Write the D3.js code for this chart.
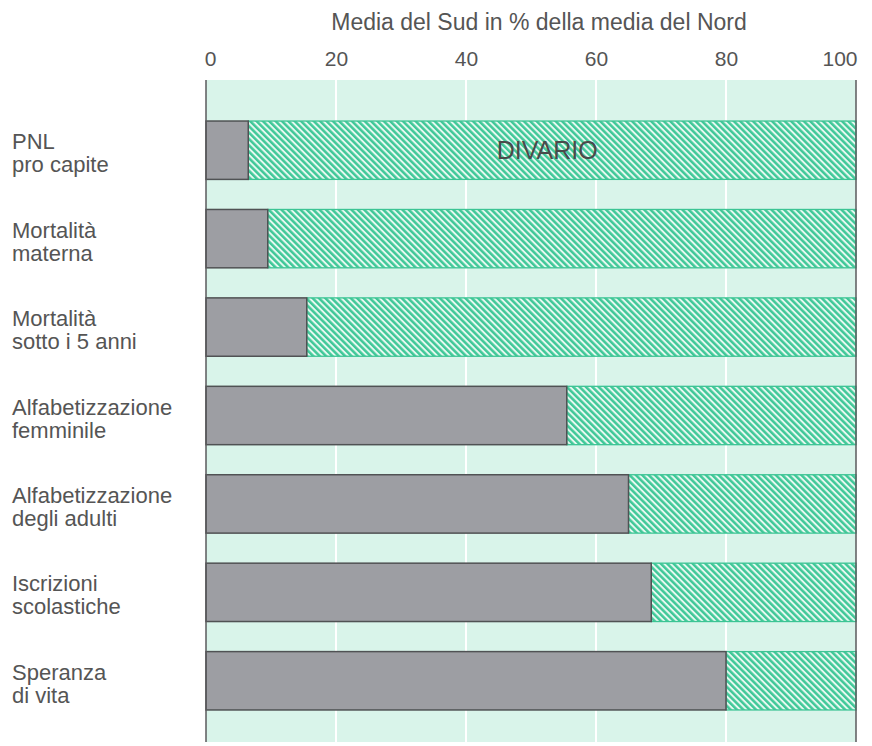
<!DOCTYPE html>
<html>
<head>
<meta charset="utf-8">
<script src="https://cdn.jsdelivr.net/npm/d3@7"></script>
<style>
  html, body { margin: 0; padding: 0; background: #ffffff; }
  svg { display: block; }
  text { font-family: "Liberation Sans", Arial, Helvetica, sans-serif; }
</style>
</head>
<body>
<script>
// South average as % of the North average, per indicator
const categories = [
  ["PNL", "pro capite"],
  ["Mortalità", "materna"],
  ["Mortalità", "sotto i 5 anni"],
  ["Alfabetizzazione", "femminile"],
  ["Alfabetizzazione", "degli adulti"],
  ["Iscrizioni", "scolastiche"],
  ["Speranza", "di vita"]
];
const values = [6.5, 9.5, 15.5, 55.5, 65, 68.5, 80];
const tickValues = [0, 20, 40, 60, 80, 100];
const axisTitle = "Media del Sud in % della media del Nord";
const gapLabel = "DIVARIO";

const W = 872, H = 746;
const plotTop = 80, plotBottom = 742;

const svg = d3.select("body").append("svg")
  .attr("width", W).attr("height", H);

const x = d3.scaleLinear().domain([0, 100]).range([206, 856]);
const y = d3.scaleBand()
  .domain(d3.range(categories.length))
  .range([106, 725])
  .paddingInner(0.34)
  .paddingOuter(0.17);

// diagonal hatch for the gap up to 100
const defs = svg.append("defs");
const pat = defs.append("pattern")
  .attr("id", "hatch")
  .attr("patternUnits", "userSpaceOnUse")
  .attr("width", 4.5).attr("height", 10)
  .attr("patternTransform", "rotate(-45)");
pat.append("rect").attr("width", 4.5).attr("height", 10).attr("fill", "#e6f8f0");
pat.append("rect").attr("width", 2.5).attr("height", 10).attr("fill", "#3fc898");

// plot background
svg.append("rect")
  .attr("x", x(0)).attr("y", plotTop)
  .attr("width", x(100) - x(0)).attr("height", plotBottom - plotTop)
  .attr("fill", "#d9f4ea");

// white gridlines
svg.append("g").selectAll("line")
  .data(tickValues.filter(d => d > 0 && d < 100))
  .join("line")
  .attr("x1", d => x(d)).attr("x2", d => x(d))
  .attr("y1", plotTop).attr("y2", plotBottom)
  .attr("stroke", "#ffffff").attr("stroke-width", 2);

// gap (hatched) bars
svg.append("g").selectAll("rect")
  .data(values)
  .join("rect")
  .attr("x", d => x(d))
  .attr("y", (d, i) => y(i))
  .attr("width", d => x(100) - x(d))
  .attr("height", y.bandwidth())
  .attr("fill", "url(#hatch)")
  .attr("stroke", "#3cc494").attr("stroke-width", 1.3);

// South value bars
svg.append("g").selectAll("rect")
  .data(values)
  .join("rect")
  .attr("x", x(0))
  .attr("y", (d, i) => y(i))
  .attr("width", d => x(d) - x(0))
  .attr("height", y.bandwidth())
  .attr("fill", "#9d9ea3")
  .attr("stroke", "#505254").attr("stroke-width", 1.5);

// left and right frame lines
svg.append("g").selectAll("line")
  .data([0, 100])
  .join("line")
  .attr("x1", d => x(d)).attr("x2", d => x(d))
  .attr("y1", plotTop).attr("y2", plotBottom)
  .attr("stroke", "#5a5a5c").attr("stroke-width", 1.5);

// top axis with tick labels only
const axis = svg.append("g")
  .attr("transform", `translate(0,${plotTop - 14})`)
  .call(d3.axisTop(x).tickValues(tickValues).tickSize(0).tickPadding(0));
axis.select(".domain").remove();
axis.selectAll("text")
  .attr("font-size", 21)
  .attr("fill", "#555555")
  .attr("font-family", "Liberation Sans, Arial, sans-serif");
axis.selectAll(".tick").filter(d => d === 0).select("text").attr("dx", 4);
axis.selectAll(".tick").filter(d => d === 100).select("text")
  .attr("text-anchor", "end").attr("dx", 1);

// axis title
svg.append("text")
  .attr("x", 539).attr("y", 30)
  .attr("text-anchor", "middle")
  .attr("font-size", 23)
  .attr("fill", "#555555")
  .text(axisTitle);

// category labels
const labels = svg.append("g").selectAll("text")
  .data(categories)
  .join("text")
  .attr("x", 12)
  .attr("y", (d, i) => y(i) + y.bandwidth() / 2 - 1)
  .attr("font-size", 22)
  .attr("fill", "#555555");
labels.selectAll("tspan")
  .data(d => d)
  .join("tspan")
  .attr("x", 12)
  .attr("dy", (d, j) => j === 0 ? 0 : 23)
  .text(d => d);

// gap label on first bar
svg.append("text")
  .attr("x", x(52.5)).attr("y", y(0) + y.bandwidth() / 2 + 9)
  .attr("text-anchor", "middle")
  .attr("font-size", 25)
  .attr("fill", "#4a4a4a")
  .text(gapLabel);
</script>
</body>
</html>
